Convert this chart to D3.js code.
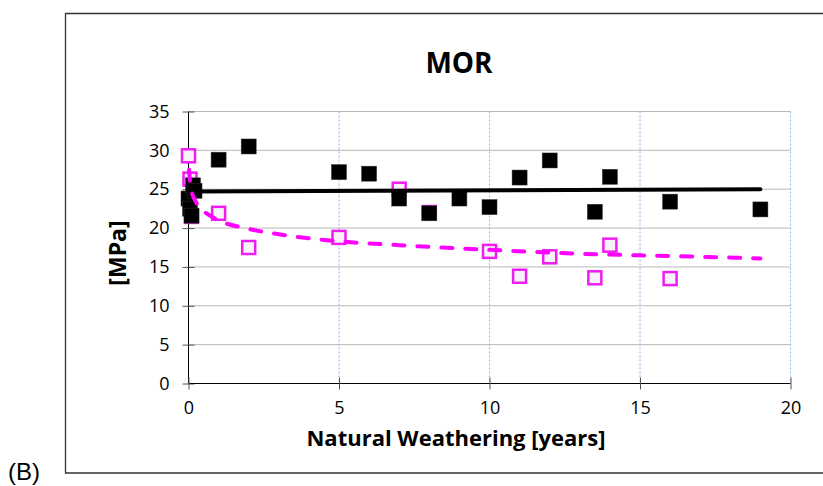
<!DOCTYPE html>
<html>
<head>
<meta charset="utf-8">
<script src="https://cdn.jsdelivr.net/npm/d3@7"></script>
<style>
  html, body { margin: 0; padding: 0; background: #fff; }
  svg { display: block; }
</style>
</head>
<body>
<svg id="chart" width="823" height="486"></svg>
<script>
// Black series (filled squares)
const blackX = [0, 0.05, 0.1, 0.15, 0.2, 1, 2, 5, 6, 7, 8, 9, 10, 11, 12, 13.5, 14, 16, 19];
const blackY = [23.8, 22.5, 21.6, 25.5, 24.8, 28.8, 30.5, 27.2, 27.0, 23.8, 21.9, 23.8, 22.7, 26.5, 28.7, 22.1, 26.6, 23.4, 22.4];

// Magenta series (open squares)
const pinkX = [0, 0.05, 0.1, 1, 2, 5, 7, 8, 10, 11, 12, 13.5, 14, 16];
const pinkY = [29.3, 26.3, 21.5, 21.9, 17.5, 18.8, 25.0, 22.0, 17.0, 13.8, 16.3, 13.6, 17.8, 13.5];

// Trendlines
const blackTrendX = [0, 19];
const blackTrendY = [24.7, 25.0];
const pinkTrendX = [0.02, 0.05, 0.1, 0.2, 0.3, 0.5, 1, 2, 3, 5, 7, 10, 13, 16, 19];
const pinkTrendY = [27.5, 26.0, 24.8, 23.7, 23.0, 22.2, 21.0, 19.9, 19.2, 18.3, 17.8, 17.2, 16.7, 16.4, 16.1];

const xTicks = [0, 5, 10, 15, 20];
const yTicks = [0, 5, 10, 15, 20, 25, 30, 35];

const svg = d3.select("#chart");
const font = "'Open Sans', sans-serif";

// Chart frame
svg.append("path")
  .attr("d", "M823,13.5 H65.5 V473 H823")
  .attr("fill", "none")
  .attr("stroke", "#333")
  .attr("stroke-width", 1.3);

svg.append("text")
  .attr("x", 8)
  .attr("y", 480)
  .attr("font-family", "'Liberation Sans', Arial, sans-serif")
  .attr("font-size", 24)
  .attr("fill", "#000")
  .text("(B)");

const x = d3.scaleLinear().domain([0, 20]).range([188.5, 790.5]);
const y = d3.scaleLinear().domain([0, 35]).range([383.5, 111.5]);

// Horizontal gridlines
svg.append("g")
  .selectAll("line")
  .data(yTicks.filter(d => d > 0))
  .enter().append("line")
  .attr("x1", x(0)).attr("x2", x(20))
  .attr("y1", d => y(d)).attr("y2", d => y(d))
  .attr("stroke", "#b8b8b8")
  .attr("stroke-width", 1);

// Vertical gridlines (dotted blue)
svg.append("g")
  .selectAll("line")
  .data(xTicks.filter(d => d > 0))
  .enter().append("line")
  .attr("x1", d => x(d)).attr("x2", d => x(d))
  .attr("y1", y(35)).attr("y2", y(0))
  .attr("stroke", "#8db3e2")
  .attr("stroke-width", 1)
  .attr("stroke-dasharray", "2,2");

// Y axis
const yAxis = svg.append("g")
  .attr("transform", `translate(${x(0)},0)`)
  .call(d3.axisLeft(y).tickValues(yTicks).tickSize(6).tickPadding(13));
yAxis.select(".domain").attr("stroke", "#000").attr("d", `M0,${y(0)}V${y(35)}`);
yAxis.selectAll(".tick line").attr("x1", 6).attr("x2", -6).attr("stroke", "#555");
yAxis.selectAll("text")
  .attr("font-family", font)
  .attr("font-size", 18)
  .attr("fill", "#000");

// X axis
const xAxis = svg.append("g")
  .attr("transform", `translate(0,${y(0)})`)
  .call(d3.axisBottom(x).tickValues(xTicks).tickSize(6).tickPadding(12));
xAxis.select(".domain").attr("stroke", "#000").attr("d", `M${x(0)},0H${x(20)}`);
xAxis.selectAll(".tick line").attr("y1", -6).attr("y2", 6).attr("stroke", "#555");
xAxis.selectAll("text")
  .attr("font-family", font)
  .attr("font-size", 18)
  .attr("fill", "#000");

// Titles
svg.append("text")
  .attr("x", 459)
  .attr("y", 73)
  .attr("text-anchor", "middle")
  .attr("font-family", font)
  .attr("font-weight", "bold")
  .attr("font-size", 28)
  .attr("fill", "#000")
  .text("MOR");

svg.append("text")
  .attr("x", 456)
  .attr("y", 446)
  .attr("text-anchor", "middle")
  .attr("font-family", font)
  .attr("font-weight", "bold")
  .attr("font-size", 22)
  .attr("fill", "#000")
  .text("Natural Weathering [years]");

svg.append("text")
  .attr("transform", "translate(126,253) rotate(-90)")
  .attr("text-anchor", "middle")
  .attr("font-family", font)
  .attr("font-weight", "bold")
  .attr("font-size", 23)
  .attr("fill", "#000")
  .text("[MPa]");

// Markers: magenta open squares first, black on top
const pinkData = pinkX.map((d, i) => ({ x: d, y: pinkY[i] }));
const blackData = blackX.map((d, i) => ({ x: d, y: blackY[i] }));

svg.append("g")
  .selectAll("rect")
  .data(pinkData)
  .enter().append("rect")
  .attr("x", d => x(d.x) - 6.5)
  .attr("y", d => y(d.y) - 6.5)
  .attr("width", 13)
  .attr("height", 13)
  .attr("fill", "#f5f3f7")
  .attr("stroke", "#f01df0")
  .attr("stroke-width", 2.5);

svg.append("g")
  .selectAll("rect")
  .data(blackData)
  .enter().append("rect")
  .attr("x", d => x(d.x) - 7.5)
  .attr("y", d => y(d.y) - 7.5)
  .attr("width", 15)
  .attr("height", 15)
  .attr("fill", "#000")
  .attr("stroke", "#333")
  .attr("stroke-width", 0.5);

// Trendlines
const line = d3.line()
  .x(d => x(d.x))
  .y(d => y(d.y));

svg.append("path")
  .datum(blackTrendX.map((d, i) => ({ x: d, y: blackTrendY[i] })))
  .attr("d", line)
  .attr("fill", "none")
  .attr("stroke", "#000")
  .attr("stroke-width", 4)
  .attr("stroke-linecap", "round");

svg.append("path")
  .datum(pinkTrendX.map((d, i) => ({ x: d, y: pinkTrendY[i] })))
  .attr("d", line.curve(d3.curveMonotoneX))
  .attr("fill", "none")
  .attr("stroke", "#ff00ff")
  .attr("stroke-width", 4)
  .attr("stroke-linecap", "round")
  .attr("stroke-dasharray", "11,13");
</script>
</body>
</html>
